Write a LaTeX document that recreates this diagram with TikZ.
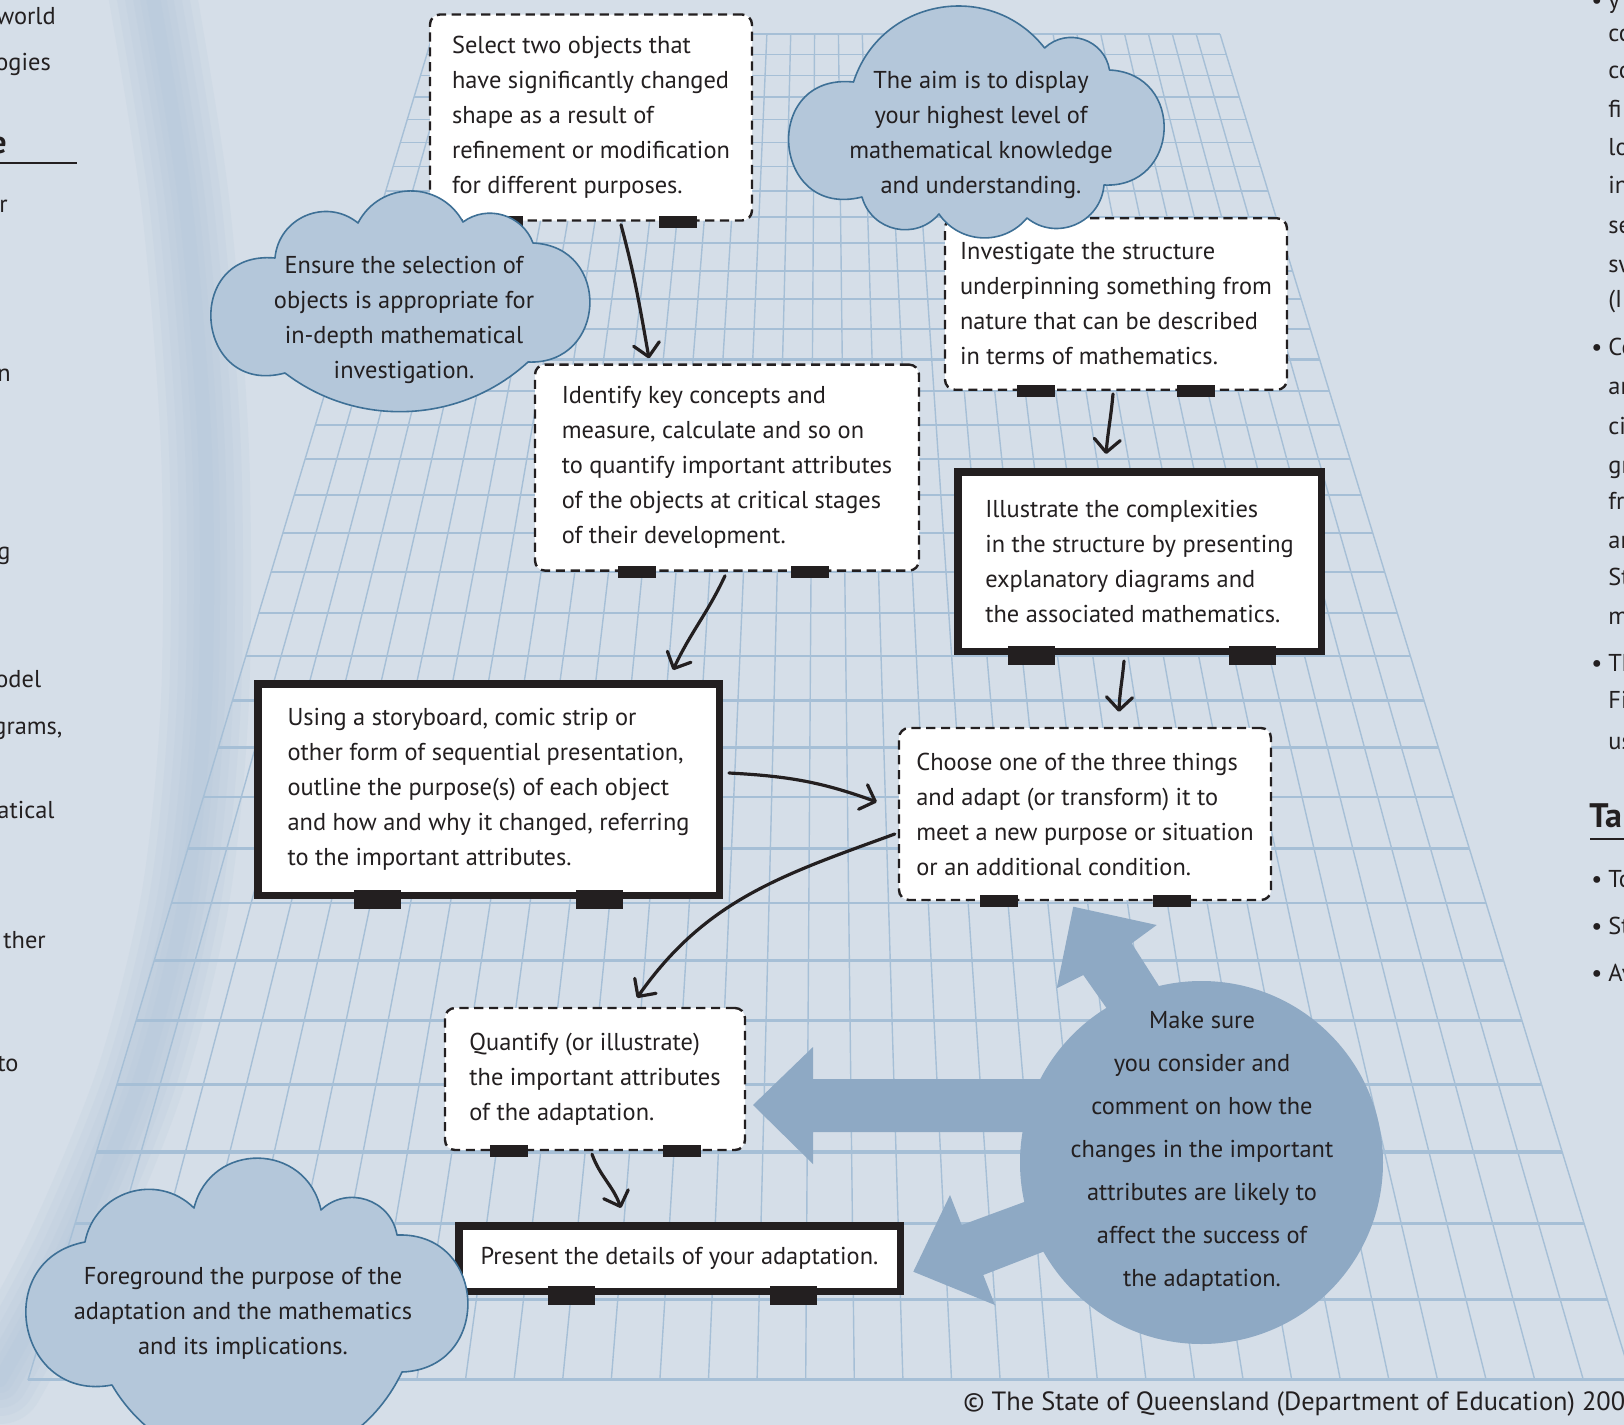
\documentclass[tikz,border=0pt]{standalone}
\usepackage{fontspec}
\setmainfont{PT Sans}
\usetikzlibrary{arrows.meta,calc}
\definecolor{bgc}{HTML}{D5DEE8}
\definecolor{gridc}{HTML}{A6BFD6}
\definecolor{cloudf}{HTML}{B4C7DA}
\definecolor{cloudd}{HTML}{3E7096}
\definecolor{circc}{HTML}{8EA9C4}
\definecolor{ink}{HTML}{231F20}
\definecolor{arcc}{HTML}{AFC3D8}
\tikzset{
 bodytxt/.style={font=\fontsize{12.2pt}{17.5pt}\selectfont, text=ink},
 dbox/.style={draw=ink, line width=1.2pt, dash pattern=on 4.6pt off 2.8pt, fill=white, rounded corners=5pt, align=left, bodytxt, inner sep=0pt},
 tbox/.style={draw=ink, line width=3.75pt, fill=white, align=left, bodytxt, inner sep=0pt},
 dtab/.style={fill=ink, minimum width=19pt, minimum height=6pt, inner sep=0pt},
 ttab/.style={fill=ink, minimum width=23.5pt, minimum height=9.5pt, inner sep=0pt},
 conn/.style={draw=ink, line width=1.6pt, line cap=round, -{Straight Barb[length=6.5pt,width=13pt,round]}},
 cloudsty/.style={fill=cloudf, draw=cloudd, line width=0.8pt, line join=round},
 cloudtxt/.style={bodytxt, align=center},
 pagetxt/.style={font=\fontsize{12.2pt}{14pt}\selectfont, text=ink, inner sep=0pt},
 bu18/.style={bend left=40, looseness=0.96},
 bu25/.style={bend left=53, looseness=1.06},
 bu30/.style={bend left=62, looseness=1.16},
 bu40/.style={bend left=77, looseness=1.4},
 bu50/.style={bend left=90, looseness=1.7},
 bu60/.style={bend left=100, looseness=2.08},
 arcline/.style={arcc, line cap=round, opacity=0.14},
}
\begin{document}
\begin{tikzpicture}[x=0.5pt,y=-0.5pt]
\useasboundingbox (0,0) rectangle (1624,1425);
\clip (0,0) rectangle (1624,1425);
\fill[bgc] (0,0) rectangle (1624,1425);

% faint, blurred decoration of the underlying page
\foreach \w in {44,36,28,20,13,7}{
  \draw[arcline, line width=\w pt] plot[smooth] coordinates {(150,-20) (185,200) (205,450) (205,700) (185,900) (140,1080) (70,1250) (0,1380)};
}

% page text fragments, left
\node[pagetxt, anchor=mid west] (l1) at (-4,19) {world};
\node[pagetxt, anchor=mid west] (l2) at (-5,65) {ogies};
\node[pagetxt, anchor=mid east, font=\bfseries\fontsize{16pt}{18pt}\selectfont] (l3) at (7,148) {e};
\draw[ink, line width=0.75pt] (0,163) -- (77,163);
\node[pagetxt, anchor=mid west] (l4) at (-1,207) {r};
\node[pagetxt, anchor=mid west] (l5) at (-3,376) {n};
\node[pagetxt, anchor=mid west] (l6) at (-3,554) {g};
\node[pagetxt, anchor=mid west] (l7) at (-5,682) {odel};
\node[pagetxt, anchor=mid west] (l8) at (-7,729) {grams,};
\node[pagetxt, anchor=mid west] (l9) at (-3,813) {atical};
\node[pagetxt, anchor=mid west] (l10) at (3,943) {ther};
\node[pagetxt, anchor=mid west] (l11) at (-3,1066) {to};

% page text fragments, right
\foreach \yy/\tx [count=\i] in {3/y,36/co,73.5/co,112/fi,150/lo,188.5/in,228/se,267/sw,302/(I,350/Co,389/ar,429/ci,468/gr,504/fr,543/ar,580/St,619/m,666/Th,703/Fi,744/us,882/To,929/St,976/Av}{
  \node[pagetxt, anchor=mid west] (r\i) at (1608,\yy) {\tx};
}
\foreach \yy [count=\i] in {3,350,666,882,929,976}{
  \node[pagetxt, anchor=mid] (rb\i) at (1597,\yy) {•};
}
\node[pagetxt, anchor=mid west, font=\bfseries\fontsize{17pt}{18pt}\selectfont] (rta) at (1589,822) {Ta};
\draw[ink, line width=1pt] (1590,839) -- (1624,839);

% perspective grid
\foreach \n in {0,...,33}{
  \pgfmathsetmacro\aa{7.710-\n*0.11897}
  \pgfmathsetmacro\dd{1000/\aa}
  \pgfmathsetmacro\yy{10*\dd-1263}
  \pgfmathsetmacro\xl{433-0.3009*(\yy-34)}
  \pgfmathsetmacro\xr{1220+0.3061*(\yy-34)}
  \pgfmathsetmacro\lw{0.6+\n*0.032}
  \draw[gridc, line width=\lw pt] (\xl,\yy) -- (\xr,\yy);
}
\foreach \k in {0,...,33}{
  \pgfmathsetmacro\xt{433+\k*23.8485}
  \pgfmathsetmacro\xb{28+\k*48.6061}
  \draw[gridc, line width=0.7pt] (\xt,34) -- (\xb,1380);
}

% boxes
\node[dbox, minimum width=161pt, minimum height=103pt] (b1) at (591,117.5)
 {Select two objects that\\have significantly changed\\shape as a result of\\refinement or modification\\for different purposes.};
\node[dbox, minimum width=171pt, minimum height=85.75pt] (b2) at (1116,304)
 {Investigate the structure\\underpinning something from\\nature that can be described\\in terms of mathematics.};
\node[dbox, minimum width=192pt, minimum height=103pt] (b3) at (727,467.6)
 {Identify key concepts and\\measure, calculate and so on\\to quantify important attributes\\of the objects at critical stages\\of their development.};
\node[tbox, minimum width=181.75pt, minimum height=89.75pt] (b4) at (1139.5,561.5)
 {Illustrate the complexities\\in the structure by presenting\\explanatory diagrams and\\the associated mathematics.};
\node[tbox, minimum width=230.75pt, minimum height=105.75pt] (b5) at (488.5,789.5)
 {Using a storyboard, comic strip or\\other form of sequential presentation,\\outline the purpose(s) of each object\\and how and why it changed, referring\\to the important attributes.};
\node[dbox, minimum width=186pt, minimum height=86pt] (b6) at (1085,814)
 {Choose one of the three things\\and adapt (or transform) it to\\meet a new purpose or situation\\or an additional condition.};
\node[dbox, minimum width=150pt, minimum height=71pt] (b7) at (595,1079)
 {Quantify (or illustrate)\\the important attributes\\of the adaptation.};
\node[tbox, minimum width=220.75pt, minimum height=32.75pt] (b8) at (679.5,1258.5)
 {Present the details of your adaptation.};

% tabs
\node[dtab] (t1a) at ($(b1.south)+(-87,0)$) {};
\node[dtab] (t1b) at ($(b1.south)+(86.5,0)$) {};
\node[dtab] (t2a) at ($(b2.south)+(-80,0)$) {};
\node[dtab] (t2b) at ($(b2.south)+(80,0)$) {};
\node[dtab] (t3a) at ($(b3.south)+(-90,0)$) {};
\node[dtab] (t3b) at ($(b3.south)+(83,0)$) {};
\node[ttab] (t4a) at ($(b4.south)+(-108.5,0)$) {};
\node[ttab] (t4b) at ($(b4.south)+(113,0)$) {};
\node[ttab] (t5a) at ($(b5.south)+(-111,0)$) {};
\node[ttab] (t5b) at ($(b5.south)+(110.5,0)$) {};
\node[dtab] (t6a) at ($(b6.south)+(-86,0)$) {};
\node[dtab] (t6b) at ($(b6.south)+(87,0)$) {};
\node[dtab] (t7a) at ($(b7.south)+(-86,0)$) {};
\node[dtab] (t7b) at ($(b7.south)+(87,0)$) {};
\node[ttab] (t8a) at ($(b8.south)+(-108,0)$) {};
\node[ttab] (t8b) at ($(b8.south)+(114,0)$) {};

% connectors
\draw[conn] ($(b1.south)+(30,3)$) to[out=-75,in=100] ($(b3.north)+(-78,-5)$);
\draw[conn] ($(b3.south)+(-2,4)$) to[out=-115,in=65] ($(b5.north)+(184.5,-10)$);
\draw[conn] ($(b2.south)+(-3,3)$) to[out=-95,in=85] ($(b4.north)+(-33.5,-14)$);
\draw[conn] ($(b4.south)+(-15.5,6)$) to[out=-95,in=88] ($(b6.north)+(34,-15)$);
\draw[conn] ($(b5.east)+(6,-16.5)$) to[out=-3,in=160] ($(b6.west)+(-21,-12)$);
\draw[conn] ($(b6.west)+(-3,20)$) to[out=200,in=55] ($(b7.north)+(42,-9)$);
\draw[conn] ($(b7.south)+(-3,3)$) to[out=-70,in=110] ($(b8.north)+(-58.5,-14)$);

% big circle with three broad arrows
\fill[circc] (1180,1022) -- (1158.3,985) -- (1131.7,943.3) -- (1156.7,925) -- (1073.3,906.7) -- (1056.7,988.3) -- (1083.3,975) -- (1106.7,1008.3) -- (1132.5,1045) -- cycle;
\fill[circc] (1060,1079) -- (813,1079) -- (813,1047) -- (753,1105) -- (813,1164) -- (813,1132) -- (1060,1132) -- cycle;
\fill[circc] (1080,1181.5) -- (1025,1201.7) -- (961.7,1225) -- (950,1195) -- (913.3,1271.7) -- (995,1305) -- (983.3,1275) -- (1043.3,1251.7) -- (1090,1233.6) -- cycle;
\node[circle, fill=circc, minimum size=181.5pt, inner sep=0pt] (mk) at (1201.5,1162.5) {};
\node[bodytxt, align=center, font=\fontsize{12.2pt}{21.5pt}\selectfont] (mkt) at (1202,1151.5)
 {Make sure\\you consider and\\comment on how the\\changes in the important\\attributes are likely to\\affect the success of\\the adaptation.};

% clouds
\path[cloudsty] (275,258) to[bu30] (358,223) to[bu30] (463,222) to[bu25] (533,243) to[bu50] (528,362) to[bu18] (285,373) to[bu60] (275,258) -- cycle;
\node[cloudtxt] (c1) at (404,320) {Ensure the selection of\\objects is appropriate for\\in-depth mathematical\\investigation.};

\path[cloudsty] (853.5,82) to[bu30] (1044.6,48) to[bu30] (1109.5,70) to[bu50] (1104,185) to[bu30] (1027,218) to[bu25] (939,214) to[bu30] (862,197) to[bu60] (853.5,82) -- cycle;
\node[cloudtxt] (c2) at (981,134.5) {The aim is to display\\your highest level of\\mathematical knowledge\\and understanding.};

\path[cloudsty] (85,1242) to[bu30] (194,1208) to[bu40] (321,1210) to[bu30] (397,1235) to[bu50] (402,1372) to[bu30] (112,1385) to[bu50] (85,1242) -- cycle;
\node[cloudtxt] (c3) at (243,1313) {Foreground the purpose of the\\adaptation and the mathematics\\and its implications.};

% copyright
\node[pagetxt, anchor=mid west, font=\fontsize{13.2pt}{15pt}\selectfont] (cpy) at (963,1405) {© The State of Queensland (Department of Education) 200};
\end{tikzpicture}
\end{document}
